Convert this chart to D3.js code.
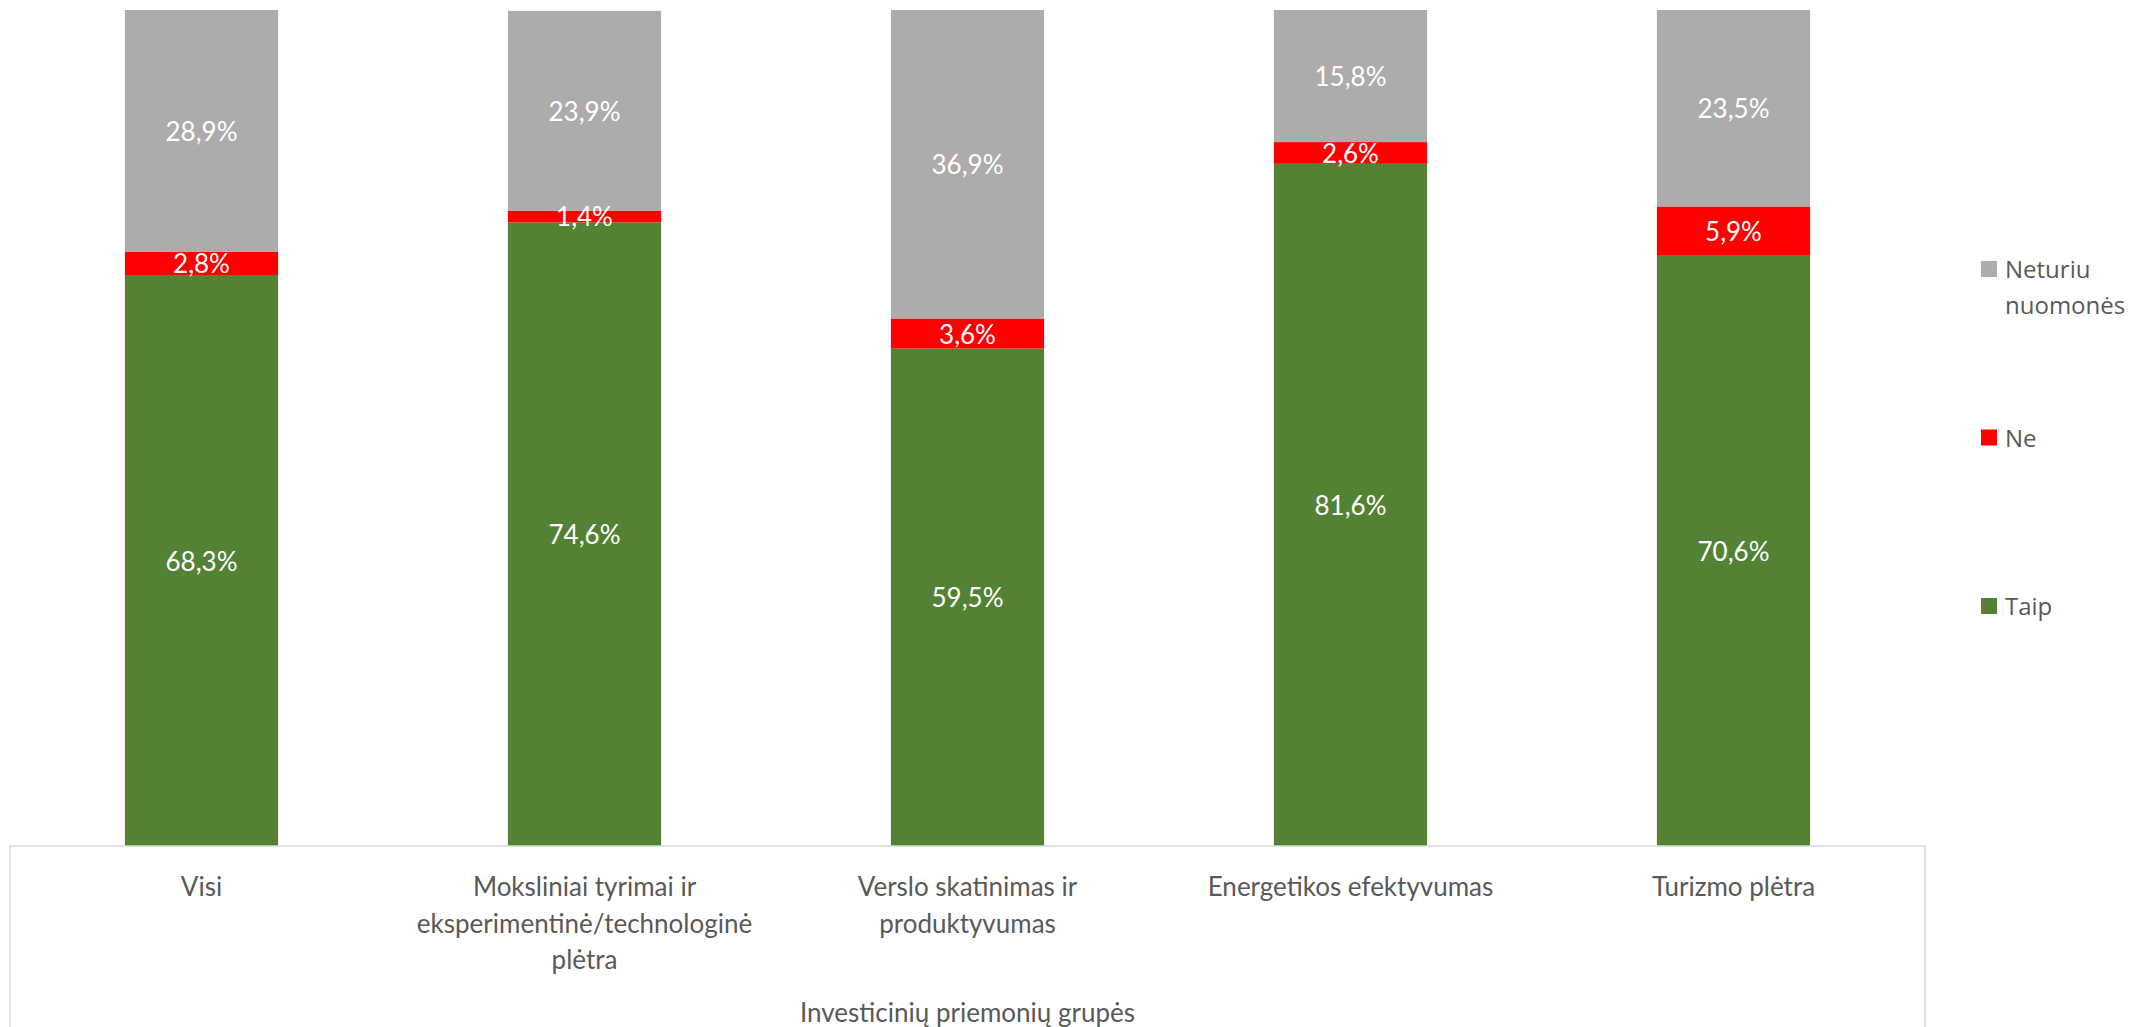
<!DOCTYPE html>
<html><head><meta charset="utf-8">
<script src="https://cdn.jsdelivr.net/npm/d3@7"></script>
<style>body{margin:0;background:#fff;overflow:hidden}</style>
</head><body>
<svg id="chart" width="2133" height="1027"></svg>
<script>
const categories = ["Visi", "Moksliniai tyrimai ir eksperimentinė/technologinė plėtra", "Verslo skatinimas ir produktyvumas", "Energetikos efektyvumas", "Turizmo plėtra"];
const seriesNames = ["Taip", "Ne", "Neturiu nuomonės"];
const taip = [68.3, 74.6, 59.5, 81.6, 70.6];
const ne = [2.8, 1.4, 3.6, 2.6, 5.9];
const neturiu = [28.9, 23.9, 36.9, 15.8, 23.5];
const axisTitle = "Investicinių priemonių grupės";
const colors = ["#548235", "#FF0000", "#AEABAB"];

const svg = d3.select("#chart");
const labelFont = "Lato, 'Open Sans', sans-serif";
const x = d3.scaleBand().domain(categories).range([10, 1925]).paddingInner(0.6).paddingOuter(0.3);
const y = d3.scaleLinear().domain([0, 100]).range([846, 10]);

const rows = categories.map((c, i) => ({cat: c, "Taip": taip[i], "Ne": ne[i], "Neturiu nuomonės": neturiu[i]}));
const stack = d3.stack().keys(seriesNames)(rows);
const fmt = v => d3.format(".1f")(v).replace(".", ",") + "%";

const g = svg.append("g");
stack.forEach((s, si) => {
  const sg = g.append("g");
  sg.selectAll("rect").data(s).join("rect")
    .attr("x", d => x(d.data.cat))
    .attr("width", x.bandwidth())
    .attr("y", d => y(d[1]))
    .attr("height", d => y(d[0]) - y(d[1]))
    .attr("fill", colors[si]);
});
stack.forEach((s, si) => {
  g.append("g").selectAll("text").data(s).join("text")
    .attr("x", d => x(d.data.cat) + x.bandwidth() / 2)
    .attr("y", d => (y(d[0]) + y(d[1])) / 2)
    .attr("text-anchor", "middle")
    .attr("dominant-baseline", "central")
    .attr("fill", "#fff")
    .style("font-family", labelFont)
    .style("font-size", "26px")
    .text(d => fmt(d[1] - d[0]));
});

// axis frame
svg.append("rect").attr("x", 10).attr("y", y(0)).attr("width", 1915).attr("height", 300)
  .attr("fill", "none").attr("stroke", "#d9d9d9").attr("stroke-width", 1.5);

// x axis labels
const xAxis = d3.axisBottom(x).tickSize(0).tickPadding(0);
const ax = svg.append("g").attr("transform", `translate(0,${y(0)})`).call(xAxis);
ax.select(".domain").remove();
ax.selectAll(".tick text").each(function(d) {
  const t = d3.select(this);
  t.text(null).attr("y", 0).attr("dy", null)
    .attr("fill", "#595959").style("font-family", labelFont).style("font-size", "26px");
  const words = d.split(" ");
  const lines = [];
  let cur = [];
  const tmp = t.append("tspan");
  words.forEach(w => {
    const test = cur.concat([w]).join(" ");
    tmp.text(test);
    if (tmp.node().getComputedTextLength() > 372 && cur.length) {
      lines.push(cur.join(" ")); cur = [w];
    } else cur.push(w);
  });
  lines.push(cur.join(" "));
  tmp.remove();
  lines.forEach((l, i) => t.append("tspan").attr("x", 0).attr("y", 50 + i * 36.7).text(l));
});

svg.append("text").attr("x", (10 + 1925) / 2).attr("y", 1022)
  .attr("text-anchor", "middle").attr("fill", "#595959")
  .style("font-family", labelFont).style("font-size", "26px").text(axisTitle);

// legend
const legendY = {"Neturiu nuomonės": 269, "Ne": 437.5, "Taip": 606};
const legend = svg.append("g");
seriesNames.forEach((n, i) => {
  const cy = legendY[n];
  legend.append("rect").attr("x", 1981).attr("y", cy - 8).attr("width", 16).attr("height", 16).attr("fill", colors[i]);
  const words = n.split(" ");
  const t = legend.append("text").attr("fill", "#595959")
    .style("font-family", "'Open Sans', sans-serif").style("font-size", "24px");
  words.forEach((w, j) => t.append("tspan").attr("x", 2005).attr("y", cy + 9 + j * 36).text(w));
});
</script>
</body></html>
